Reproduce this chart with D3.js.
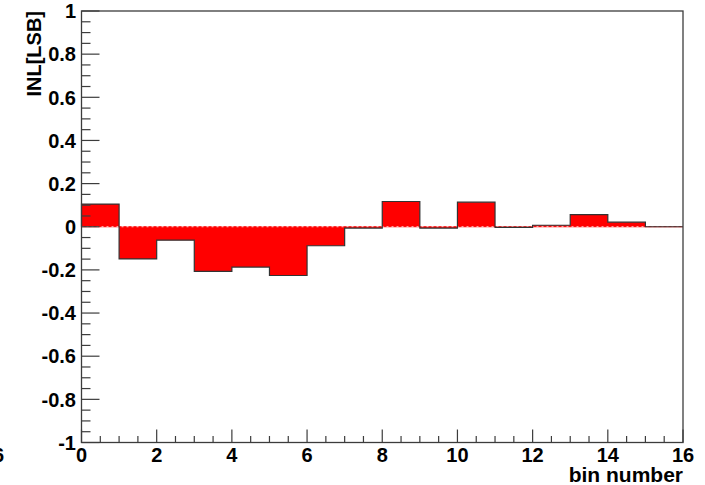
<!DOCTYPE html>
<html>
<head>
<meta charset="utf-8">
<script src="https://cdn.jsdelivr.net/npm/d3@7"></script>
<style>
  body { margin: 0; background: #fff; }
  svg { display: block; font-family: "Liberation Sans", Arial, sans-serif; font-weight: bold; }
</style>
</head>
<body>
<script>
// bin contents (INL in LSB), one per bin 0..15
const bins = [0, 1, 2, 3, 4, 5, 6, 7, 8, 9, 10, 11, 12, 13, 14, 15];
const inl = [0.105, -0.149, -0.062, -0.207, -0.187, -0.226, -0.088, -0.006,
             0.117, -0.006, 0.114, -0.003, 0.007, 0.056, 0.021, 0.0];
const xTicks = [0, 2, 4, 6, 8, 10, 12, 14, 16];
const yTicks = [-1, -0.8, -0.6, -0.4, -0.2, 0, 0.2, 0.4, 0.6, 0.8, 1];

const W = 705, H = 485;
const padL = 81.5, padR = 683, padT = 11, padB = 442.5;
const axisCol = "#3c3c3c";

const svg = d3.select("body").append("svg").attr("width", W).attr("height", H);

const x = d3.scaleLinear().domain([0, 16]).range([padL, padR]);
const y = d3.scaleLinear().domain([-1, 1]).range([padB, padT]);

// step points: each bin's value held over its width
const steps = bins.map((b, i) => ({ b: b, v: inl[i] }));
steps.push({ b: 16, v: inl[inl.length - 1] });

// filled histogram as one area
svg.append("path")
  .attr("d", d3.area().curve(d3.curveStepAfter)
    .x(d => x(d.b)).y0(y(0)).y1(d => y(d.v))(steps))
  .attr("fill", "#ff0000");

// zero line (red with white dashes)
svg.append("line").attr("x1", x(0)).attr("x2", x(16)).attr("y1", y(0)).attr("y2", y(0))
  .attr("stroke", "#ff0000").attr("stroke-width", 1);
svg.append("line").attr("x1", x(0)).attr("x2", x(16)).attr("y1", y(0)).attr("y2", y(0))
  .attr("stroke", "#fff").attr("stroke-width", 1).attr("stroke-dasharray", "2,3").attr("opacity", 0.8);

// step outline
svg.append("path")
  .attr("d", d3.line().curve(d3.curveStepAfter).x(d => x(d.b)).y(d => y(d.v))(
    [{ b: 0, v: 0 }].concat(steps)))
  .attr("fill", "none").attr("stroke", "#333").attr("stroke-width", 1.2);

// frame
svg.append("rect").attr("x", padL).attr("y", padT)
  .attr("width", padR - padL).attr("height", padB - padT)
  .attr("fill", "none").attr("stroke", axisCol).attr("stroke-width", 1.3);

// y ticks
const yMinor = d3.range(-1, 1.0001, 0.05);
svg.append("g").selectAll("line").data(yMinor).enter().append("line")
  .attr("x1", padL).attr("y1", d => y(d)).attr("y2", d => y(d))
  .attr("x2", d => Math.abs(Math.round(d * 5) - d * 5) < 1e-6 ? padL + 18 : padL + 9)
  .attr("stroke", axisCol).attr("stroke-width", 1.2);

svg.append("g").selectAll("text").data(yTicks).enter().append("text")
  .attr("x", padL - 5.5).attr("y", d => y(d)).attr("dy", "0.36em")
  .attr("text-anchor", "end").attr("font-size", 20)
  .text(d => String(d));

// x ticks
const xMinor = d3.range(0, 16.001, 0.5);
svg.append("g").selectAll("line").data(xMinor).enter().append("line")
  .attr("y1", padB).attr("x1", d => x(d)).attr("x2", d => x(d))
  .attr("y2", d => d % 2 === 0 ? padB - 13 : padB - 6.5)
  .attr("stroke", axisCol).attr("stroke-width", 1.2);

svg.append("g").selectAll("text").data(xTicks).enter().append("text")
  .attr("x", d => x(d)).attr("y", 462)
  .attr("text-anchor", "middle").attr("font-size", 20)
  .text(d => d);

// stray label at the left edge
svg.append("text").attr("x", -7).attr("y", 462).attr("font-size", 20).text("6");

// axis titles
svg.append("text").attr("x", padR).attr("y", 482)
  .attr("text-anchor", "end").attr("font-size", 21).text("bin number");
svg.append("text").attr("transform", `translate(41,${padT}) rotate(-90)`)
  .attr("text-anchor", "end").attr("font-size", 20).text("INL[LSB]");
</script>
</body>
</html>
